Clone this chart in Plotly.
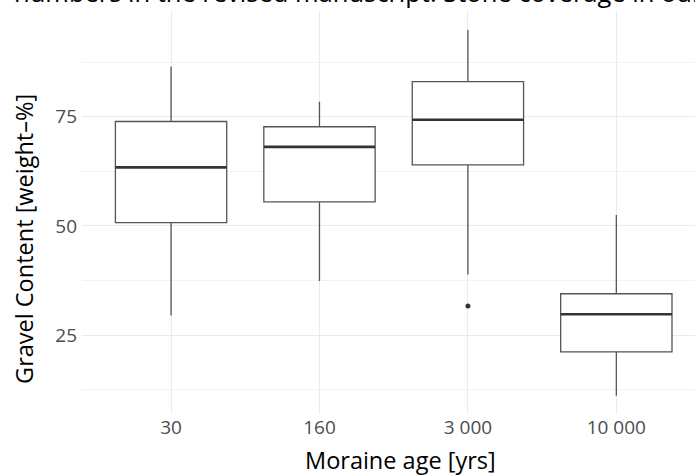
import plotly.graph_objects as go

categories = ["30", "160", "3 000", "10 000"]
upper_whisker = [86.5, 78.4, 94.8, 52.5]
q3_values = [73.9, 72.7, 83.0, 34.5]
medians = [63.4, 68.1, 74.3, 29.8]
q1_values = [50.75, 55.5, 64.0, 21.2]
lower_whisker = [29.5, 37.4, 38.9, 11.2]
outlier_category = [2]
outlier_values = [31.7]

FONT = "Open Sans"
xpos = list(range(len(categories)))
box_width = 0.75

L, T, B, W, H = 82, 11, 62, 695, 476
PW, PH = W - L, H - T - B

fig = go.Figure()
fig.add_trace(go.Box(
    x=xpos, q1=q1_values, median=medians, q3=q3_values,
    lowerfence=lower_whisker, upperfence=upper_whisker,
    width=box_width, whiskerwidth=0,
    fillcolor="white", line=dict(color="#555555", width=1.3),
    boxpoints=False, showlegend=False, hoverinfo="skip",
))

mx, my = [], []
for i, m in zip(xpos, medians):
    mx += [i - box_width / 2, i + box_width / 2, None]
    my += [m, m, None]
fig.add_trace(go.Scatter(x=mx, y=my, mode="lines",
                         line=dict(color="#333333", width=2.6),
                         showlegend=False, hoverinfo="skip"))

fig.add_trace(go.Scatter(x=outlier_category, y=outlier_values, mode="markers",
                         marker=dict(color="#333333", size=5),
                         showlegend=False, hoverinfo="skip"))

def px(x):
    return (x - L) / PW

def py(y):
    return (H - B - y) / PH

fig.add_annotation(text="numbers in the revised manuscript. Stone coverage in our",
                   xref="paper", yref="paper", x=px(12), y=py(-8),
                   xanchor="left", yanchor="middle", showarrow=False,
                   font=dict(family=FONT, size=25.5, color="black"))
fig.add_annotation(text="Gravel Content [weight\u2013%]",
                   xref="paper", yref="paper", x=px(23.9), y=py(239),
                   xanchor="center", yanchor="middle", textangle=-90, showarrow=False,
                   font=dict(family=FONT, size=23.5, color="black"))
fig.add_annotation(text="Moraine age [yrs]",
                   xref="paper", yref="paper", x=px(400), y=py(460.2),
                   xanchor="center", yanchor="middle", showarrow=False,
                   font=dict(family=FONT, size=23.5, color="black"))

fig.update_layout(
    width=W, height=H,
    margin=dict(l=L, r=0, t=T, b=B, autoexpand=False),
    paper_bgcolor="white", plot_bgcolor="white",
    font=dict(family=FONT),
    xaxis=dict(
        range=[-0.6, 3.53], tickvals=xpos, ticktext=categories,
        showgrid=True, gridcolor="#EBEBEB", gridwidth=1,
        zeroline=False, showline=False, ticks="", automargin=False,
        tickfont=dict(size=19, color="#4D4D4D"),
    ),
    yaxis=dict(
        range=[7.0, 99.17], tick0=0, dtick=25,
        showgrid=True, gridcolor="#EBEBEB", gridwidth=1,
        minor=dict(dtick=12.5, tick0=0, showgrid=True, gridcolor="#F2F2F2", gridwidth=0.7),
        zeroline=False, showline=False, ticks="", automargin=False,
        ticklabelstandoff=4,
        tickfont=dict(size=19, color="#4D4D4D"),
    ),
)

fig.write_html("out.html", config={"displayModeBar": False},
               post_script="document.body.style.margin='0';document.body.style.overflow='hidden';")
